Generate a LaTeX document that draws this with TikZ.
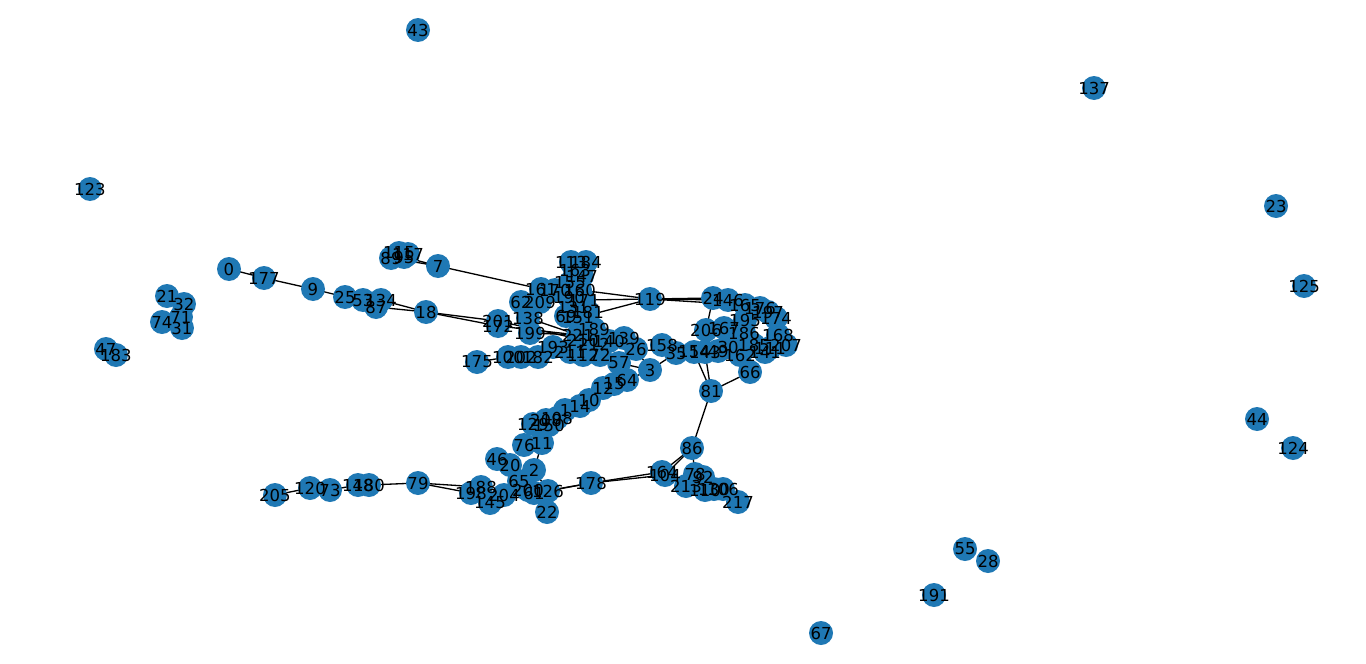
\documentclass[tikz,border=0pt]{standalone}
\usepackage{fontspec}
\setmainfont{DejaVu Sans}
\definecolor{nxblue}{HTML}{1F78B4}
\pgfdeclarelayer{edges}
\pgfsetlayers{edges,main}
\tikzset{
vertex/.style={circle, fill=nxblue, minimum size=0.48cm, inner sep=0pt},
vlabel/.style={font=\fontsize{9.4}{10}\selectfont, inner sep=0pt},
edge/.style={draw=black, line width=0.75pt}
}
\def\vertlist{43/418/30, 137/1094/88, 123/90/189, 23/1276/206, 125/1304/286,
  44/1257/419, 124/1293/448, 55/965/549, 28/988/561, 191/934/595, 67/821/633,
  21/167/296, 32/184/304, 71/181/317, 74/162/322, 31/182/328, 47/106/349, 183/116/355,
  0/229/269, 177/264/278, 9/313/289, 25/345/297, 53/363/300, 87/376/307, 134/381/300, 18/426/312,
  89/391/258, 115/399/253, 95/404/257, 117/408/254, 7/438/266,
  201/498/321, 172/498/326, 138/528/318, 199/530/333, 62/521/302, 209/540/302,
  161/541/289, 170/555/290, 69/566/316, 175/477/362, 100/508/357, 202/521/357, 182/538/357,
  193/553/347, 211/570/352, 112/583/355, 72/600/355, 57/619/363, 3/650/370,
  64/627/380, 15/614/384, 12/603/388, 10/589/400, 14/580/406, 1/565/410,
  108/557/418, 150/549/425, 129/533/424, 208/546/420, 76/524/445, 11/542/443,
  46/497/459, 20/510/465, 2/534/470, 65/519/481, 126/548/491, 61/534/493,
  200/528/490, 22/547/512, 204/504/495, 145/490/503, 198/471/493, 188/481/487, 178/591/483,
  164/662/472, 104/665/475, 86/692/448, 78/695/474, 92/703/477, 213/686/486,
  110/705/490, 130/714/489, 106/723/489, 217/738/502,
  205/275/495, 120/310/488, 73/330/490, 148/358/485, 180/369/485, 79/418/483,
  113/571/262, 184/586/262, 163/575/270, 147/582/276, 155/570/283, 160/580/290,
  190/569/297, 171/584/300, 131/573/307, 181/588/312, 151/578/318, 189/594/329,
  221/578/335, 210/583/340, 212/594/344, 139/624/338, 140/609/341,
  26/636/349, 158/662/345, 35/676/353, 154/694/352, 143/705/352, 49/718/351,
  30/728/347, 185/754/345, 111/770/348, 141/765/352, 162/740/355, 207/786/345,
  119/650/299, 24/713/298, 146/728/300, 165/745/305, 176/760/308, 197/768/312,
  174/776/318, 195/745/320, 206/706/330, 167/724/328, 186/744/333, 168/778/335,
  66/750/372, 81/711/391}
\begin{document}
\begin{tikzpicture}[x=0.02cm, y=-0.02cm]
\useasboundingbox (0,0) rectangle (1366,663);
\foreach \v/\px/\py in \vertlist
  \node[vertex] (n\v) at (\px,\py) {};
\foreach \v/\px/\py in \vertlist
  \node[vlabel] at (n\v.center) {\v};
\begin{pgfonlayer}{edges}
\foreach \a/\b in {0/177, 177/9, 9/25, 25/53, 53/134, 134/18, 87/18,
  89/7, 95/7, 7/161, 18/201, 18/172, 172/221, 201/210, 199/221, 138/221, 69/210,
  175/100, 160/119, 171/119, 119/151, 119/24, 119/146, 119/165, 24/206,
  57/3, 3/35, 3/26, 64/3, 15/64, 12/15, 10/12, 14/10, 1/14, 108/1,
  143/81, 154/81, 81/66, 81/86, 86/164, 86/104, 86/78,
  178/164, 178/104, 126/178, 61/178, 11/2, 46/20, 2/65, 2/126,
  79/198, 79/188, 180/79, 148/180, 73/148, 205/120}
  \draw[edge] (n\a.center) -- (n\b.center);
\end{pgfonlayer}
\end{tikzpicture}
\end{document}
